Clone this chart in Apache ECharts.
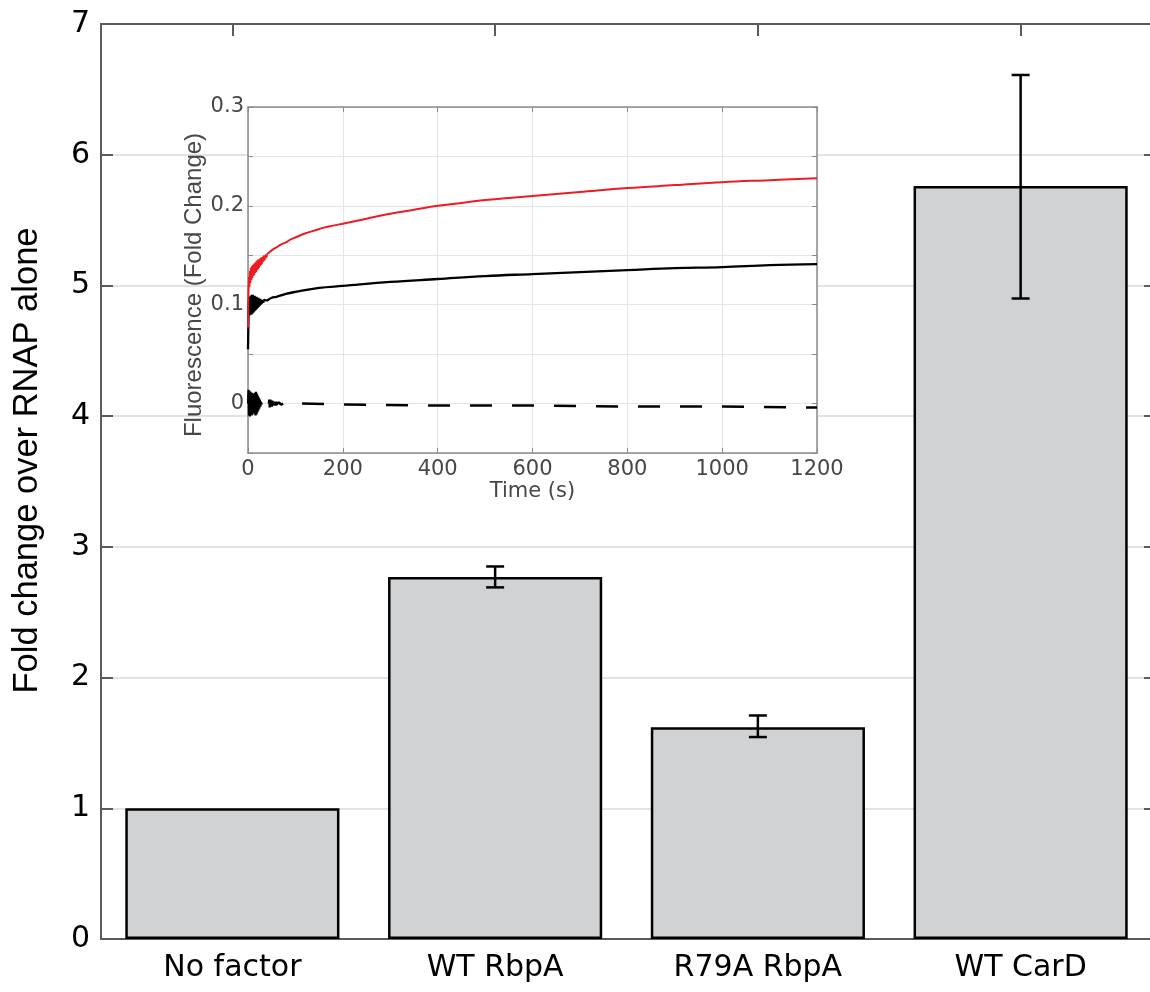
<!DOCTYPE html>
<html>
<head>
<meta charset="utf-8">
<script src="https://cdn.jsdelivr.net/npm/echarts@6/dist/echarts.min.js"></script>
<style>
html,body{margin:0;padding:0;background:#fff;}
#chart{width:1150px;height:992px;}
</style>
</head>
<body>
<div id="chart"></div>
<script>
// ---- Main bar chart data ----
const categories = ['No factor', 'WT RbpA', 'R79A RbpA', 'WT CarD'];
const foldChange = [1.0, 2.77, 1.62, 5.76];
const errLow = [null, 2.69, 1.545, 4.90];
const errHigh = [null, 2.85, 1.71, 6.61];
const mainYTicks = {min: 0, max: 7, interval: 1};

// ---- Inset data: time (s), fluorescence (fold change) ----
const redTrace = [
  [0,0.077],[1,0.112],[2,0.128],[3,0.118],[4,0.134],[5,0.122],[6,0.137],[7,0.125],[8,0.139],[9,0.127],
  [10,0.140],[11,0.129],[12,0.141],[13,0.130],[14,0.142],[15,0.132],[16,0.143],[17,0.133],[18,0.144],[19,0.135],
  [20,0.145],[21,0.136],[22,0.146],[23,0.137],[24,0.146],[25,0.139],[26,0.147],[27,0.140],[28,0.148],[29,0.141],
  [30,0.148],[31,0.143],[32,0.149],[33,0.144],[34,0.150],[35,0.145],[36,0.150],[37,0.147],[38,0.151],[39,0.148],
  [40,0.151],[45,0.153],[50,0.155],[60,0.158],[70,0.161],[80,0.163],[90,0.166],[100,0.168],
  [120,0.172],[140,0.175],[160,0.178],[180,0.180],[200,0.182],[250,0.187],[300,0.192],[350,0.196],[400,0.200],
  [450,0.203],[500,0.206],[550,0.208],[600,0.210],[700,0.214],[800,0.218],[900,0.221],[1000,0.224],[1100,0.226],[1200,0.228]
];
const blackTrace = [
  [0,0.055],[1,0.085],[2,0.106],[3,0.089],[4,0.108],[5,0.090],[6,0.109],[7,0.090],[8,0.110],[9,0.091],
  [10,0.110],[11,0.092],[12,0.109],[13,0.093],[14,0.109],[15,0.094],[16,0.108],[17,0.095],[18,0.108],[19,0.096],
  [20,0.107],[21,0.097],[22,0.107],[23,0.098],[24,0.106],[25,0.099],[26,0.106],[27,0.100],[28,0.105],[29,0.101],
  [30,0.105],[32,0.102],[34,0.105],[36,0.103],[38,0.105],[40,0.104],[50,0.107],[60,0.108],[80,0.111],[100,0.113],
  [150,0.117],[200,0.119],[300,0.123],[400,0.126],[500,0.129],[600,0.131],[700,0.133],[800,0.135],[900,0.137],
  [1000,0.138],[1100,0.140],[1200,0.141]
];
const controlNoiseEarly = [
  [0,0.0],[1,0.014],[2,-0.012],[3,0.013],[4,-0.013],[5,0.012],[6,-0.011],[7,0.010],[8,-0.012],[9,0.011],
  [10,-0.010],[11,0.009],[12,-0.008],[13,0.010],[14,-0.011],[15,0.011],[16,-0.012],[17,0.012],[18,-0.011],[19,0.010],
  [20,-0.009],[21,0.008],[22,-0.007],[23,0.006],[24,-0.005],[25,0.004],[26,-0.003],[27,0.002],[28,-0.001],[29,0.001],[30,0.0]
];
const controlNoiseLate = [
  [44,0.0],[45,0.004],[46,-0.004],[47,0.004],[48,-0.003],[49,0.003],[50,-0.003],[51,0.003],[52,-0.002],[53,0.002],
  [54,-0.002],[55,0.002],[56,-0.002],[57,0.002],[58,-0.002],[59,0.002],[60,-0.001],[61,0.001],[62,-0.001],[63,0.001],
  [64,-0.001],[65,0.001],[66,-0.001],[68,0.001],[70,-0.001],[72,0.0],[74,0.0]
];
const controlTrace = [
  [114,0.0],[200,-0.001],[400,-0.002],[600,-0.002],[800,-0.003],[1000,-0.003],[1200,-0.004]
];
const insetXTicks = {min: 0, max: 1200, interval: 200};
const insetYTicks = {min: -0.05, max: 0.3, interval: 0.05};
const noiseEnd = 40; // s: traces are noisy before this time, smooth after

const errorData = categories.map((c, i) => [i, errLow[i], errHigh[i]]).filter(d => d[1] !== null);

const axisGray = '#5a5a5a';
const insetGray = '#8a8a8a';
const insetText = '#474747';

const chart = echarts.init(document.getElementById('chart'), null, {renderer: 'canvas'});

function insetLine(data, color, width, z, smooth, extra) {
  return Object.assign({type: 'line', xAxisIndex: 2, yAxisIndex: 2, data: data, showSymbol: false,
    symbol: 'none', z: z, smooth: smooth, lineStyle: {color: color, width: width}}, extra || {});
}

const option = {
  animation: false,
  backgroundColor: '#fff',
  grid: [
    {left: 101, top: 24, width: 1051, height: 915, outerBoundsMode: 'none', z: 0},
    {left: 248, top: 107, width: 569, height: 346, outerBoundsMode: 'none', show: true,
     backgroundColor: '#fff', borderWidth: 0, z: 3}
  ],
  xAxis: [
    {type: 'category', gridIndex: 0, data: categories, position: 'bottom',
     axisLine: {onZero: false, lineStyle: {color: axisGray, width: 2}},
     axisTick: {show: false},
     axisLabel: {color: '#000', fontSize: 30, fontFamily: 'DejaVu Sans', margin: 14},
     splitLine: {show: false}},
    {type: 'category', gridIndex: 0, data: categories, position: 'top',
     axisLine: {onZero: false, lineStyle: {color: axisGray, width: 2}},
     axisTick: {show: true, inside: true, alignWithLabel: true, length: 12, lineStyle: {color: axisGray, width: 2}},
     axisLabel: {show: false}, splitLine: {show: false}},
    {type: 'value', gridIndex: 1, min: insetXTicks.min, max: insetXTicks.max, interval: insetXTicks.interval,
     position: 'bottom', z: 4,
     name: 'Time (s)', nameLocation: 'middle', nameGap: 27,
     nameTextStyle: {color: insetText, fontSize: 21, fontFamily: 'DejaVu Sans'},
     axisLine: {onZero: false, lineStyle: {color: insetGray, width: 1.5}},
     axisTick: {inside: true, length: 5, lineStyle: {color: insetGray}},
     axisLabel: {color: insetText, fontSize: 21, fontFamily: 'DejaVu Sans', margin: 6,
       formatter: function (v) { return String(Math.round(v)); }},
     splitLine: {show: true, lineStyle: {color: '#e4e4e4', width: 1}}},
    {type: 'value', gridIndex: 1, min: insetXTicks.min, max: insetXTicks.max, interval: insetXTicks.interval,
     position: 'top', z: 4,
     axisLine: {onZero: false, lineStyle: {color: insetGray, width: 1.5}},
     axisTick: {inside: true, length: 5, lineStyle: {color: insetGray}},
     axisLabel: {show: false}, splitLine: {show: false}}
  ],
  yAxis: [
    {type: 'value', gridIndex: 0, min: mainYTicks.min, max: mainYTicks.max, interval: mainYTicks.interval,
     position: 'left',
     name: 'Fold change over RNAP alone', nameLocation: 'middle', nameGap: 56,
     nameTextStyle: {color: '#000', fontSize: 34.5, fontFamily: 'Liberation Sans', padding: [0, 0, 0, 42]},
     axisLine: {show: true, onZero: false, lineStyle: {color: axisGray, width: 2}},
     axisTick: {show: true, inside: true, length: 12, lineStyle: {color: axisGray, width: 2}},
     axisLabel: {color: '#000', fontSize: 30, fontFamily: 'DejaVu Sans', margin: 11},
     splitLine: {show: true, lineStyle: {color: '#e3e3e3', width: 2}}},
    {type: 'value', gridIndex: 0, min: mainYTicks.min, max: mainYTicks.max, interval: mainYTicks.interval,
     position: 'right',
     axisLine: {show: true, onZero: false, lineStyle: {color: axisGray, width: 2}},
     axisTick: {show: true, inside: true, length: 8, lineStyle: {color: axisGray, width: 2}},
     axisLabel: {show: false}, splitLine: {show: false}},
    {type: 'value', gridIndex: 1, min: insetYTicks.min, max: insetYTicks.max, interval: insetYTicks.interval,
     position: 'left', z: 4,
     name: 'Fluorescence (Fold Change)', nameLocation: 'middle', nameGap: 41,
     nameTextStyle: {color: insetText, fontSize: 24, fontFamily: 'Liberation Sans', padding: [0, 10, 0, 0]},
     axisLine: {show: true, onZero: false, lineStyle: {color: insetGray, width: 1.5}},
     axisTick: {show: true, inside: true, length: 5, lineStyle: {color: insetGray}},
     axisLabel: {color: insetText, fontSize: 21, fontFamily: 'DejaVu Sans', margin: 4,
       formatter: function (v) {
         const r = Math.round(v * 100) / 100;
         if (Math.abs(r * 10 - Math.round(r * 10)) > 1e-6 || r < 0) return '';
         return r === 0 ? '0' : r.toFixed(1);
       }},
     splitLine: {show: true, lineStyle: {color: '#e4e4e4', width: 1}}},
    {type: 'value', gridIndex: 1, min: insetYTicks.min, max: insetYTicks.max, interval: insetYTicks.interval,
     position: 'right', z: 4,
     axisLine: {show: true, onZero: false, lineStyle: {color: insetGray, width: 1.5}},
     axisTick: {show: true, inside: true, length: 5, lineStyle: {color: insetGray}},
     axisLabel: {show: false}, splitLine: {show: false}}
  ],
  series: [
    {type: 'bar', xAxisIndex: 0, yAxisIndex: 0, data: foldChange, barWidth: '81.5%',
     itemStyle: {color: '#d1d2d4', borderColor: '#000', borderWidth: 2.5}},
    {type: 'custom', xAxisIndex: 0, yAxisIndex: 0, data: errorData, encode: {x: 0, y: [1, 2]}, z: 3,
     renderItem: function (params, api) {
       const x = api.value(0);
       const lo = api.coord([x, api.value(1)]);
       const hi = api.coord([x, api.value(2)]);
       const cw = 9;
       const style = {stroke: '#000', lineWidth: 2.5};
       return {type: 'group', children: [
         {type: 'line', shape: {x1: lo[0], y1: lo[1], x2: hi[0], y2: hi[1]}, style: style},
         {type: 'line', shape: {x1: lo[0] - cw, y1: lo[1], x2: lo[0] + cw, y2: lo[1]}, style: style},
         {type: 'line', shape: {x1: hi[0] - cw, y1: hi[1], x2: hi[0] + cw, y2: hi[1]}, style: style}
       ]};
     }},
    insetLine(controlNoiseEarly, '#000', 2.2, 6, false),
    insetLine(controlNoiseLate, '#000', 2.5, 6, false),
    insetLine(controlTrace, '#000', 2.5, 6, false, {lineStyle: {color: '#000', width: 2.5, type: [22, 20]}}),
    insetLine(blackTrace.filter(d => d[0] <= noiseEnd), '#000', 2.3, 6, false),
    insetLine(blackTrace.filter(d => d[0] >= noiseEnd), '#000', 2.3, 6, 0.4),
    insetLine(redTrace.filter(d => d[0] <= noiseEnd), '#ec1c24', 2, 7, false),
    insetLine(redTrace.filter(d => d[0] >= noiseEnd), '#ec1c24', 2, 7, 0.4)
  ]
};
chart.setOption(option);
</script>
</body>
</html>
